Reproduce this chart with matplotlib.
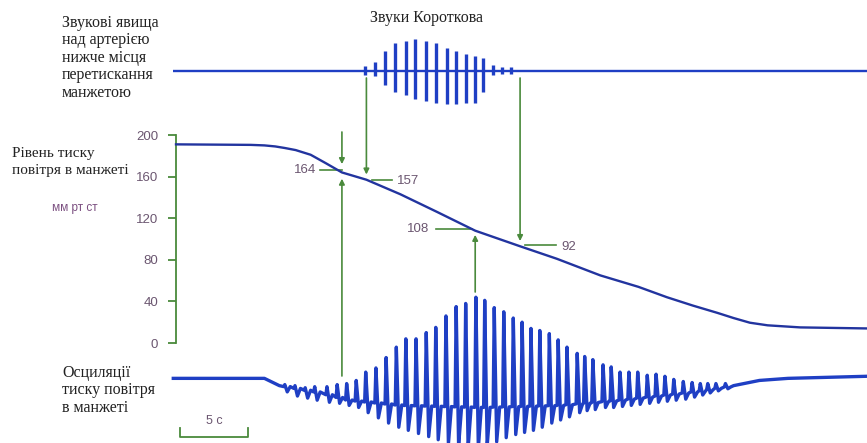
import numpy as np
import matplotlib.pyplot as plt

# cuff pressure curve (s, mm Hg)
pressure_t = [0, 5.5, 6.5, 7.3, 8.0, 8.8, 9.9, 11.0, 12.2, 14.0, 16.5, 19.2, 22.0, 25.3, 28.0,
              31.2, 34.0, 36.1, 38.0, 39.8, 41.0, 42.2, 43.5, 45.9, 50.8]
pressure_p = [191, 190.5, 190, 189, 187.5, 185.5, 181, 173, 164, 157, 143, 126, 108, 93, 81,
              65, 54, 44, 36, 29, 24, 19.5, 17, 15, 14]

# Korotkoff sounds (upper trace)
sound_level = 262
sound_t = [13.9, 14.6, 15.4, 16.1, 16.9, 17.6, 18.4, 19.1, 19.9, 20.6, 21.3, 22.0, 22.6, 23.3, 24.0, 24.6]
sound_up = [4, 8, 19, 26, 28, 30, 28, 26, 22, 19, 16, 14, 12, 5, 3, 3]
sound_down = [4, 5, 14, 21, 24, 27, 29, 31, 32, 32, 31, 31, 21, 4, 3, 3]

# cuff pressure oscillations (lower trace)
osc_base_t = [-0.2, 6.5, 7.6, 10.6, 12.6, 16.5, 22.4, 28.2, 32.6, 38.0, 41.0, 42.9, 45.0, 50.8]
osc_base_y = [-34, -34, -41, -48, -55, -60, -62, -60, -55, -47, -41, -36, -34, -32]
beat_t = [8.0, 8.75, 9.5, 10.2, 11.1, 11.85, 12.55, 13.25, 13.95, 14.7, 15.45, 16.2,
          16.9, 17.65, 18.4, 19.1, 19.85, 20.6, 21.3, 22.05, 22.7, 23.4, 24.1, 24.8,
          25.45, 26.1, 26.75, 27.45, 28.1, 28.75, 29.5, 30.05, 30.65, 31.4, 32.0, 32.65,
          33.3, 33.95, 34.65, 35.3, 35.95, 36.6, 37.3, 37.95, 38.55, 39.1, 39.7, 40.4]
beat_peak = [-40, -41, -43, -42, -42, -40, -39, -36, -28, -24, -14, -4,
             4, 4, 10, 15, 26, 35, 38, 44, 41, 34, 30, 24,
             20, 14, 12, 9, 3, -4, -10, -13, -16, -21, -23, -28,
             -28, -28, -31, -30, -32, -35, -37, -38, -39, -39, -39, -39]
beat_trough = [-47, -51, -53, -55, -57, -58, -60, -62, -67, -72, -77, -81,
               -84, -87, -90, -93, -97, -99, -101, -101, -99, -95, -91, -88,
               -86, -84, -81, -77, -74, -71, -67, -65, -64, -62, -62, -61,
               -60, -59, -58, -57, -56, -55, -54, -52, -50, -48, -46, -44]

events_t = [12.2, 14.0, 22.0, 25.3]
events_p = [164, 157, 108, 92]

green = '#4a8a3c'
blue = '#1f3fc4'
navy = '#22349f'
numcol = '#6b5670'
textcol = '#222222'
serif = ['Liberation Serif', 'DejaVu Serif']
sans = ['Liberation Sans', 'DejaVu Sans']


def X(px):
    return (px - 176) / 13.6


def Y(py):
    return (343 - py) / 1.04


fig = plt.figure(figsize=(8.67, 4.43), dpi=100)
ax = fig.add_axes([0, 0, 1, 1])
ax.set_xlim(X(0), X(867))
ax.set_ylim(Y(443), Y(0))

# pressure axis
for s in ['top', 'right', 'bottom']:
    ax.spines[s].set_visible(False)
ax.spines['left'].set_position(('data', 0))
ax.spines['left'].set_bounds(0, 200)
ax.spines['left'].set_color(green)
ax.spines['left'].set_linewidth(1.3)
ax.set_yticks([0, 40, 80, 120, 160, 200])
ax.tick_params(axis='y', colors=green, length=6, width=1.3, labelcolor=numcol, labelsize=9.5, pad=7)
for lab in ax.get_yticklabels():
    lab.set_family(sans)
ax.set_xticks([])
ax.patch.set_alpha(0)

# pressure curve
ax.plot(pressure_t, pressure_p, color=navy, lw=1.7, zorder=3)

# Korotkoff sounds
ax.hlines(sound_level, X(173), X(867), color=blue, lw=1.7, zorder=3)
st = np.array(sound_t)
ax.vlines(st, sound_level - np.array(sound_down), sound_level + np.array(sound_up),
          color=blue, lw=2.4, zorder=3)

# oscillations
bt = np.array(beat_t)
base = np.interp(bt, osc_base_t, osc_base_y)
xs, ys = [], []
for t, y in zip(osc_base_t, osc_base_y):
    if t < bt[0] - 0.1:
        xs.append(t)
        ys.append(y)
for t, b, pk, tr in zip(bt, base, beat_peak, beat_trough):
    xs += [t - 0.08, t, t + 0.18, t + 0.4]
    ys += [b, pk, tr, b]
for t, y in zip(osc_base_t, osc_base_y):
    if t > bt[-1] + 0.5:
        xs.append(t)
        ys.append(y)
ax.plot(xs, ys, color=blue, lw=2.4, zorder=3)

# arrows and readings
arrow_kw = dict(arrowstyle='-|>', color=green, lw=1.2, mutation_scale=8, shrinkA=0, shrinkB=0)
top_start = Y(78)
osc_start = [Y(376), Y(292)]
# 164: from both traces
ax.annotate('', xy=(events_t[0], events_p[0] + 8), xytext=(events_t[0], Y(132)), arrowprops=arrow_kw)
ax.annotate('', xy=(events_t[0], events_p[0] - 6), xytext=(events_t[0], osc_start[0]), arrowprops=arrow_kw)
ax.plot([X(320), events_t[0]], [events_p[0] + 2, events_p[0] + 2], color=green, lw=1.2)
ax.text(X(316), events_p[0] + 2, '164', ha='right', va='center', color=numcol, fontsize=9.5, family=sans)
# 157: from sounds
ax.annotate('', xy=(events_t[1], events_p[1] + 5), xytext=(events_t[1], top_start), arrowprops=arrow_kw)
ax.plot([X(372), X(392)], [events_p[1], events_p[1]], color=green, lw=1.2)
ax.text(X(397), events_p[1] - 1, '157', ha='left', va='center', color=numcol, fontsize=9.5, family=sans)
# 108: max oscillation
ax.annotate('', xy=(events_t[2], events_p[2] - 4), xytext=(events_t[2], osc_start[1]), arrowprops=arrow_kw)
ax.plot([X(436), X(472)], [events_p[2] + 2, events_p[2] + 2], color=green, lw=1.2)
ax.text(X(429), events_p[2] + 2, '108', ha='right', va='center', color=numcol, fontsize=9.5, family=sans)
# 92: end of sounds
ax.annotate('', xy=(events_t[3], events_p[3] + 6), xytext=(events_t[3], top_start), arrowprops=arrow_kw)
ax.plot([X(525), X(556)], [events_p[3] + 2, events_p[3] + 2], color=green, lw=1.2)
ax.text(X(561), events_p[3], '92', ha='left', va='center', color=numcol, fontsize=9.5, family=sans)

# scale bar
ax.plot([0.3, 0.3, 5.3, 5.3], [Y(428), Y(437), Y(437), Y(428)], color=green, lw=1.3)
ax.text(2.8, Y(421), '5 с', ha='center', va='center', color=numcol, fontsize=9, family=sans)

# labels
ax.text(X(62), Y(15), 'Звукові явища\nнад артерією\nнижче місця\nперетискання\nманжетою',
        ha='left', va='top', color=textcol, fontsize=11.5, family=serif, linespacing=1.12)
ax.text(X(426), Y(18), 'Звуки Короткова', ha='center', va='center', color=textcol,
        fontsize=11.5, family=serif)
ax.text(X(12), Y(147), 'Рівень тиску\nповітря в манжеті', ha='left', va='top',
        color=textcol, fontsize=11, family=serif, linespacing=1.4)
ax.text(X(75), Y(208), 'мм рт ст', ha='center', va='center', color='#7b4f80', fontsize=8.5, family=sans)
ax.text(X(62), Y(365), 'Осциляції\nтиску повітря\nв манжеті', ha='left', va='top',
        color=textcol, fontsize=11.5, family=serif, linespacing=1.12)

fig.savefig('out.png', dpi=100)
